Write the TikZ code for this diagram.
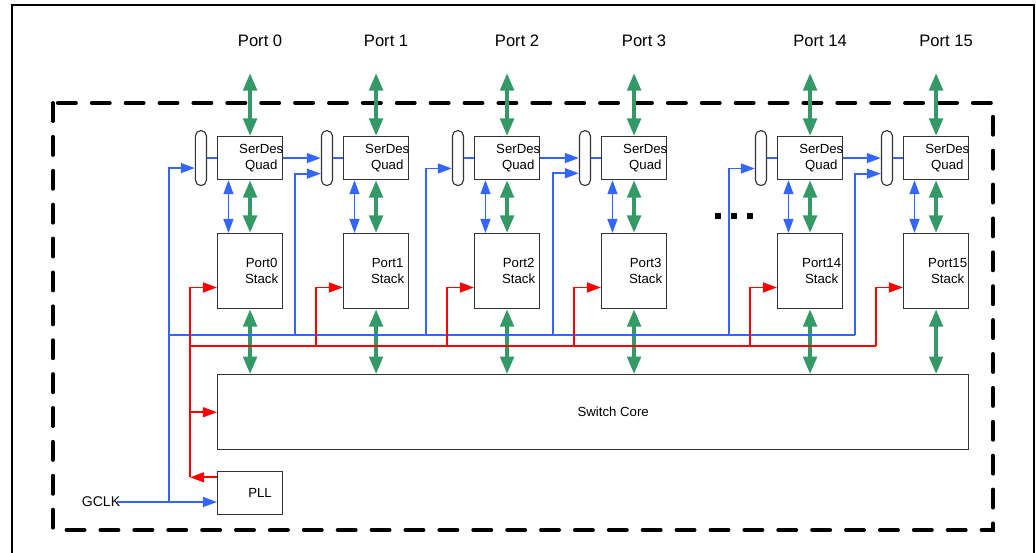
\documentclass[tikz,border=0pt]{standalone}
\usepackage{fontspec}
\setmainfont{Liberation Sans}
\usepackage{tikz}
\usetikzlibrary{positioning}
\usetikzlibrary{arrows.meta}
\usepackage{xcolor}
\definecolor{portgreen}{RGB}{51,153,102}
\definecolor{clkblue}{RGB}{51,102,255}
\definecolor{rstred}{RGB}{255,0,0}
\tikzset{
  blk/.style={draw=black!80, line width=0.8pt, inner sep=0pt},
  quadbox/.style={blk, minimum width=1.625cm, minimum height=1.075cm},
  stackbox/.style={blk, minimum width=1.625cm, minimum height=1.875cm},
  corebox/.style={blk, minimum width=18.775cm, minimum height=1.875cm},
  capsule/.style={blk, minimum width=0.275cm, minimum height=1.375cm, rounded corners=0.135cm},
  boxtext/.style={font=\fontsize{9.4}{11.3}\selectfont, align=center, inner sep=0pt},
  portlbl/.style={font=\fontsize{11.8}{14}\selectfont, inner sep=0pt},
  datapath/.style={draw=portgreen, line width=2.8pt,
    {Triangle[length=12.5pt,width=9.5pt]}-{Triangle[length=12.5pt,width=9.5pt]}},
  ctlpath/.style={draw=clkblue, line width=1.3pt,
    {Triangle[length=10pt,width=7pt]}-{Triangle[length=10pt,width=7pt]}},
  clkline/.style={draw=clkblue, line width=1.3pt},
  clkarrow/.style={clkline, -{Triangle[length=10pt,width=7pt]}},
  rstline/.style={draw=rstred, line width=1.3pt},
  rstarrow/.style={rstline, -{Triangle[length=10pt,width=7pt]}}
}
\begin{document}
\begin{tikzpicture}[x=0.025cm, y=-0.025cm]
  \clip (0,0) rectangle (1036,552);
  \useasboundingbox (0,0) rectangle (1036,552);
  % outer frame and chip border
  \draw[line width=1.6pt] (12,5) rectangle (1034,580);
  \draw[line width=2.8pt, line cap=round, dash pattern=on 12.8pt off 11.3pt] (53,103) rectangle (993,530);

  % port columns
  \foreach \n/\x in {0/217,1/343,2/474,3/601,14/777,15/903}{
    \node[quadbox, anchor=north west] (sd\n) at (\x,136) {};
    \node[boxtext] (sdt\n) at ([xshift=0.28cm]sd\n.center) {SerDes\\Quad};
    \node[stackbox, anchor=north west] (st\n) at (\x,233) {};
    \node[boxtext] (stt\n) at ([xshift=0.29cm]st\n.center) {Port\n\\Stack};
    \node[capsule, left=0.25cm of sd\n] (ov\n) {};
    \coordinate (pin\n) at ([yshift=1.575cm]sd\n.north);
    \node[portlbl] (pl\n) at ([xshift=0.25cm, yshift=0.8cm]pin\n) {Port \n};
    \coordinate (bt\n) at (\x-48,335);
    \coordinate (rt\n) at (\x-27,346);
  }

  \node[corebox, anchor=north west] (core) at ([yshift=-1.625cm]st0.south west) {};
  \node[boxtext] (coret) at ([xshift=0.5cm]core.center) {Switch Core};
  \node[quadbox, anchor=north west] (pll) at ([yshift=-0.525cm]core.south west) {};
  \node[boxtext] (pllt) at ([xshift=0.25cm]pll.center) {PLL};
  \node[portlbl, font=\fontsize{10}{12}\selectfont] (gclk) at (101,502) {GCLK};

  % data paths
  \foreach \n in {0,1,2,3,14,15}{
    \draw[datapath] (pin\n) -- (sd\n.north);
    \draw[datapath] (sd\n.south) -- (st\n.north);
    \draw[datapath] (st\n.south) -- (st\n.south |- core.north);
    \draw[ctlpath] ([xshift=-0.54cm]sd\n.south) -- ([xshift=-0.54cm]st\n.north);
    \draw[clkline] (ov\n) -- (sd\n);
  }

  % clock net
  \foreach \n/\dy in {0/0.25,1/0.39,2/0.26,3/0.38,14/0.26,15/0.39}
    \draw[clkarrow] (bt\n) |- ([yshift=-\dy cm]ov\n.west);
  \foreach \a/\b in {0/1,2/3,14/15}
    \draw[clkarrow] (sd\a.east) -- (sd\a.east -| ov\b.west);
  \draw[clkline] (bt0) -- (bt15);
  \draw[clkline] (bt0) -- (bt0 |- gclk.east);
  \draw[clkarrow] ([xshift=-0.08cm]gclk.east) -- (gclk.east -| pll.west);

  % reset net
  \foreach \n in {0,1,2,3,14,15}
    \draw[rstarrow] (rt\n) |- ([yshift=-0.41cm]st\n.west);
  \draw[rstline] (rt0) -- (rt15);
  \coordinate (pllout) at ([yshift=-0.15cm]pll.north west);
  \draw[rstline] (rt0) -- (rt0 |- pllout);
  \draw[rstarrow] (pllout) -- (pllout -| rt0);
  \draw[rstarrow] (rt0 |- core.west) -- (core.west);

  % ellipsis
  \foreach \d in {718,734,750}
    \fill (\d-3,213) rectangle ++(6,6);
\end{tikzpicture}
\end{document}
